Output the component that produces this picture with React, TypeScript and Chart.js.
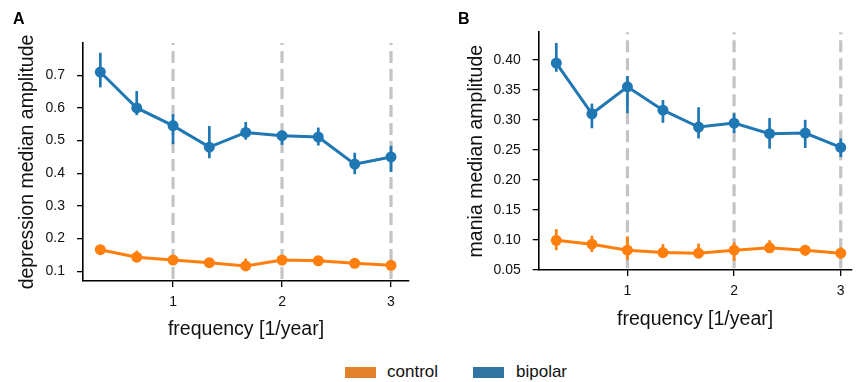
import React, { useEffect, useRef } from "react";
import { Chart, registerables } from "chart.js";

Chart.register(...registerables);

const frequencies = [0.333, 0.667, 1, 1.333, 1.667, 2, 2.333, 2.667, 3];
const xTickValues = [1, 2, 3];

const depBipolar = [0.71, 0.6, 0.546, 0.48, 0.525, 0.515, 0.511, 0.428, 0.45];
const depBipolarLow = [0.663, 0.578, 0.489, 0.446, 0.503, 0.487, 0.485, 0.397, 0.404];
const depBipolarHigh = [0.769, 0.652, 0.581, 0.545, 0.557, 0.531, 0.54, 0.463, 0.484];
const depControl = [0.166, 0.143, 0.134, 0.126, 0.116, 0.134, 0.132, 0.124, 0.118];
const depControlLow = [0.15, 0.129, 0.125, 0.12, 0.106, 0.118, 0.125, 0.117, 0.11];
const depControlHigh = [0.178, 0.163, 0.142, 0.133, 0.139, 0.148, 0.139, 0.131, 0.126];
const depYTicks = [0.1, 0.2, 0.3, 0.4, 0.5, 0.6, 0.7];

const manBipolar = [0.3945, 0.31, 0.355, 0.316, 0.288, 0.2945, 0.277, 0.278, 0.254];
const manBipolarLow = [0.38, 0.286, 0.311, 0.295, 0.269, 0.278, 0.252, 0.253, 0.238];
const manBipolarHigh = [0.428, 0.327, 0.373, 0.333, 0.321, 0.311, 0.303, 0.3, 0.269];
const manControl = [0.0995, 0.093, 0.083, 0.079, 0.078, 0.083, 0.087, 0.083, 0.078];
const manControlLow = [0.083, 0.08, 0.067, 0.072, 0.071, 0.065, 0.079, 0.074, 0.069];
const manControlHigh = [0.118, 0.107, 0.106, 0.093, 0.094, 0.096, 0.0995, 0.089, 0.088];
const manYTicks = [0.05, 0.1, 0.15, 0.2, 0.25, 0.3, 0.35, 0.4];

const BLUE = "#1f77b4";
const ORANGE = "#ff7f0e";
const LEG_BLUE = "#3274a1";
const LEG_ORANGE = "#e1812c";
const FONT = "'Liberation Sans', Arial, sans-serif";

const refLinesPlugin = {
  id: "refLines",
  beforeDatasetsDraw(chart: any) {
    const { ctx, chartArea, scales } = chart;
    ctx.save();
    ctx.strokeStyle = "#c4c4c4";
    ctx.lineWidth = 3.2;
    ctx.setLineDash([12, 6]);
    ctx.lineDashOffset = 10;
    for (const v of xTickValues) {
      const x = scales.x.getPixelForValue(v);
      ctx.beginPath();
      ctx.moveTo(x, chartArea.top);
      ctx.lineTo(x, chartArea.bottom);
      ctx.stroke();
    }
    ctx.restore();
    ctx.save();
    ctx.setLineDash([]);
    ctx.lineWidth = 2.7;
    chart.data.datasets.forEach((ds: any) => {
      ctx.strokeStyle = ds.borderColor;
      ds.data.forEach((p: any, i: number) => {
        const x = scales.x.getPixelForValue(p.x);
        const y1 = scales.y.getPixelForValue(ds.errLow[i]);
        const y2 = scales.y.getPixelForValue(ds.errHigh[i]);
        ctx.beginPath();
        ctx.moveTo(x, y1);
        ctx.lineTo(x, y2);
        ctx.stroke();
      });
    });
    ctx.restore();
  },
};

function makeDataset(label: string, vals: number[], lo: number[], hi: number[], color: string) {
  return {
    label,
    data: frequencies.map((f, i) => ({ x: f, y: vals[i] })),
    errLow: lo,
    errHigh: hi,
    borderColor: color,
    backgroundColor: color,
    borderWidth: 3,
    pointRadius: 5.5,
    pointHoverRadius: 5.5,
    pointBorderWidth: 0,
    clip: false,
  } as any;
}

type PanelProps = {
  width: number;
  height: number;
  left: number;
  xAxisHeight: number;
  padTop: number;
  padRight: number;
  yAxisWidth: number;
  yTitlePad: number;
  xMin: number;
  xMax: number;
  yMin: number;
  yMax: number;
  yTicks: number[];
  decimals: number;
  yTitle: string;
  bipolar: number[];
  bipolarLow: number[];
  bipolarHigh: number[];
  control: number[];
  controlLow: number[];
  controlHigh: number[];
};

function Panel(p: PanelProps) {
  const ref = useRef<HTMLCanvasElement>(null);
  useEffect(() => {
    if (!ref.current) return;
    const chart = new Chart(ref.current, {
      type: "line",
      data: {
        datasets: [
          makeDataset("bipolar", p.bipolar, p.bipolarLow, p.bipolarHigh, BLUE),
          makeDataset("control", p.control, p.controlLow, p.controlHigh, ORANGE),
        ],
      },
      options: {
        animation: false,
        responsive: false,
        maintainAspectRatio: false,
        layout: { padding: { top: p.padTop, right: p.padRight, left: 0, bottom: 0 } },
        plugins: { legend: { display: false }, tooltip: { enabled: false } },
        scales: {
          x: {
            type: "linear",
            min: p.xMin,
            max: p.xMax,
            afterBuildTicks: (s: any) => {
              s.ticks = xTickValues.map((v) => ({ value: v }));
            },
            afterFit: (s: any) => {
              s.height = p.xAxisHeight;
            },
            border: { display: true, color: "#000", width: 1.6 },
            grid: { display: true, drawOnChartArea: false, drawTicks: true, tickLength: 6, color: "#000", lineWidth: 1.3 },
            ticks: {
              color: "#111",
              font: { family: FONT, size: 14 },
              padding: 7,
              maxRotation: 0,
              callback: (v: any) => String(v),
            },
            title: {
              display: true,
              text: "frequency [1/year]",
              color: "#111",
              font: { family: FONT, size: 19.5 },
              padding: { top: 0, bottom: 0 },
            },
          },
          y: {
            type: "linear",
            min: p.yMin,
            max: p.yMax,
            afterBuildTicks: (s: any) => {
              s.ticks = p.yTicks.map((v) => ({ value: v }));
            },
            afterFit: (s: any) => {
              s.width = p.yAxisWidth;
            },
            border: { display: true, color: "#000", width: 1.6 },
            grid: { display: true, drawOnChartArea: false, drawTicks: true, tickLength: 6, color: "#000", lineWidth: 1.3 },
            ticks: {
              color: "#111",
              font: { family: FONT, size: 14 },
              padding: 12,
              callback: (v: any) => Number(v).toFixed(p.decimals),
            },
            title: {
              display: true,
              text: p.yTitle,
              color: "#111",
              font: { family: FONT, size: 19.5 },
              padding: { top: p.yTitlePad, bottom: 0 },
            },
          },
        },
      },
      plugins: [refLinesPlugin],
    });
    return () => chart.destroy();
  }, []);
  return (
    <canvas
      ref={ref}
      width={p.width}
      height={p.height}
      style={{ position: "absolute", left: p.left, top: 0, width: p.width, height: p.height }}
    />
  );
}

export default function App() {
  const labelStyle: React.CSSProperties = {
    position: "absolute",
    fontFamily: FONT,
    fontWeight: "bold",
    fontSize: 16,
    lineHeight: "16px",
    color: "#000",
    top: 10.5,
  };
  const legText: React.CSSProperties = {
    position: "absolute",
    fontFamily: FONT,
    fontSize: 17,
    lineHeight: "17px",
    color: "#111",
    top: 363,
  };
  return (
    <div style={{ position: "fixed", left: 0, top: 0, width: 857, height: 382, background: "#fff", overflow: "hidden" }}>
      <Panel
        width={430}
        height={341}
        left={0}
        xAxisHeight={60}
        padTop={43}
        padRight={21}
        yAxisWidth={83}
        yTitlePad={15.8}
        xMin={0.174}
        xMax={3.165}
        yMin={0.07}
        yMax={0.799}
        yTicks={depYTicks}
        decimals={1}
        yTitle="depression median amplitude"
        bipolar={depBipolar}
        bipolarLow={depBipolarLow}
        bipolarHigh={depBipolarHigh}
        control={depControl}
        controlLow={depControlLow}
        controlHigh={depControlHigh}
      />
      <Panel
        width={427}
        height={331}
        left={430}
        xAxisHeight={61}
        padTop={32.3}
        padRight={0}
        yAxisWidth={108.7}
        yTitlePad={35}
        xMin={0.168}
        xMax={3.101}
        yMin={0.05}
        yMax={0.4457}
        yTicks={manYTicks}
        decimals={2}
        yTitle="mania median amplitude"
        bipolar={manBipolar}
        bipolarLow={manBipolarLow}
        bipolarHigh={manBipolarHigh}
        control={manControl}
        controlLow={manControlLow}
        controlHigh={manControlHigh}
      />
      <div style={{ ...labelStyle, left: 13 }}>A</div>
      <div style={{ ...labelStyle, left: 458 }}>B</div>
      <div style={{ position: "absolute", left: 345, top: 367, width: 31, height: 11, background: LEG_ORANGE }} />
      <div style={{ ...legText, left: 387 }}>control</div>
      <div style={{ position: "absolute", left: 473, top: 367, width: 31, height: 11, background: LEG_BLUE }} />
      <div style={{ ...legText, left: 516 }}>bipolar</div>
    </div>
  );
}
